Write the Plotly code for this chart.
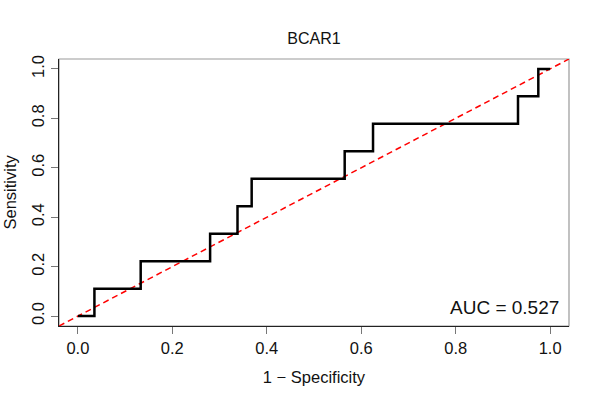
import plotly.graph_objects as go

# ROC steps (1 - specificity, sensitivity)
fpr = [0.0, 0.035, 0.035, 0.133, 0.133, 0.28, 0.28, 0.338, 0.338, 0.368, 0.368,
       0.565, 0.565, 0.625, 0.625, 0.932, 0.932, 0.975, 0.975, 1.0]
tpr = [0.0, 0.0, 0.111, 0.111, 0.222, 0.222, 0.333, 0.333, 0.444, 0.444, 0.556,
       0.556, 0.667, 0.667, 0.778, 0.778, 0.889, 0.889, 1.0, 1.0]
ref_line = [-0.04, 1.04]
tick_vals = [0, 0.2, 0.4, 0.6, 0.8, 1.0]
tick_text = ["0.0", "0.2", "0.4", "0.6", "0.8", "1.0"]
auc_label = "AUC = 0.527"

FONT = "Liberation Sans, Arial, sans-serif"
L, R, T, B = 59, 31, 59, 74
PW = 600 - L - R

fig = go.Figure()
fig.add_trace(go.Scatter(
    x=ref_line, y=ref_line, mode="lines",
    line=dict(color="#ff0000", width=1.5, dash="6px,4px"),
    hoverinfo="skip"
))
fig.add_trace(go.Scatter(
    x=fpr, y=tpr, mode="lines",
    line=dict(color="black", width=2.5)
))

axis_common = dict(
    tickvals=tick_vals, ticktext=tick_text, automargin=False,
    ticks="outside", ticklen=7, tickwidth=1, tickcolor="#777777",
    showgrid=False, zeroline=False,
    showline=True, linecolor="#222222", linewidth=1.2,
    tickfont=dict(family=FONT, size=16.5, color="#111111"),
)

fig.update_layout(
    width=600, height=400,
    margin=dict(l=L, r=R, t=T, b=B),
    paper_bgcolor="white", plot_bgcolor="white",
    showlegend=False,
    font=dict(family=FONT, color="#111111"),
    title=dict(text="BCAR1", x=314 / 600, xanchor="center", xref="container",
               y=1 - 38 / 400, yref="container", yanchor="middle",
               font=dict(family=FONT, size=16, color="#111111")),
    xaxis=dict(range=[-0.04, 1.04], title=dict(text="1 − Specificity", standoff=15,
               font=dict(family=FONT, size=16.5)), **axis_common),
    yaxis=dict(range=[-0.04, 1.04], tickangle=-90, **axis_common),
    shapes=[dict(type="rect", xref="paper", yref="paper", x0=0, x1=1, y0=0, y1=1,
                 line=dict(color="#999999", width=1.2), layer="below")],
    annotations=[
        dict(text=auc_label, x=1.023, y=0.035, xref="x", yref="y",
             xanchor="right", yanchor="middle", showarrow=False,
             font=dict(family=FONT, size=19, color="#111111")),
        dict(text="Sensitivity", x=(9 - L) / PW, y=0.5, xref="paper", yref="paper",
             xanchor="center", yanchor="middle", textangle=-90, showarrow=False,
             font=dict(family=FONT, size=16.5, color="#111111")),
    ],
)

fig.write_html("out.html", config={"displayModeBar": False},
               post_script="document.body.style.margin='0px';")
